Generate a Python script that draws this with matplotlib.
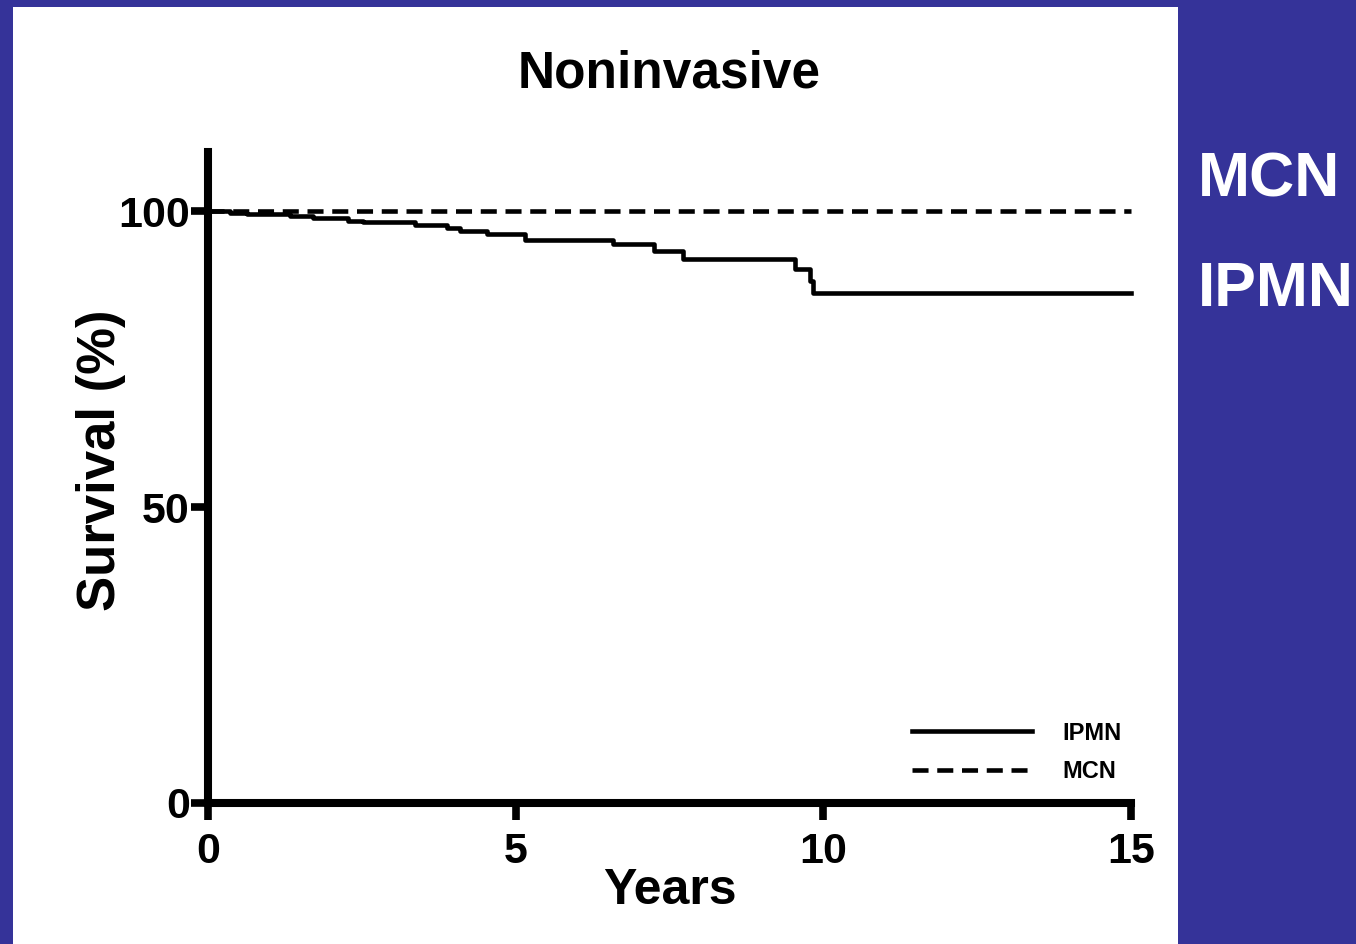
import matplotlib
matplotlib.use("Agg")
import matplotlib.pyplot as plt
from matplotlib.patches import Rectangle

# Kaplan-Meier style survival data
ipmn_years = [0, 0.36, 0.63, 1.33, 1.71, 2.28, 2.52, 3.37, 3.88, 4.10, 4.54,
              5.15, 6.58, 7.24, 7.72, 9.54, 9.79, 9.84, 15]
ipmn_survival = [100, 99.7, 99.45, 99.2, 98.8, 98.4, 98.1, 97.6, 97.1, 96.6, 96.1,
                 95.2, 94.4, 93.3, 91.9, 90.3, 88.2, 86.2, 86.2]
mcn_years = [0, 15]
mcn_survival = [100, 100]

x_ticks = [0, 5, 10, 15]
y_ticks = [0, 50, 100]
side_labels = ["MCN", "IPMN"]

bg_blue = "#353399"
plt.rcParams['font.family'] = ['Liberation Sans', 'DejaVu Sans']
plt.rcParams['font.weight'] = 'bold'

fig = plt.figure(figsize=(13.56, 9.44), dpi=100)
fig.patch.set_facecolor(bg_blue)

# white slide panel
fig.patches.append(Rectangle((13 / 1356, 0), (1178 - 13) / 1356, 1 - 7 / 944,
                             transform=fig.transFigure, facecolor="white",
                             edgecolor="none", zorder=-10))

ax = fig.add_axes([208 / 1356, 141 / 944, 923 / 1356, 651 / 944])
ax.set_facecolor("none")
ax.set_zorder(5)

ax.step(ipmn_years, ipmn_survival, where="post", color="black", lw=3.3,
        label="IPMN", clip_on=False)
ax.plot(mcn_years, mcn_survival, color="black", lw=3.3, linestyle=(0, (3.5, 1.9)),
        label="MCN", clip_on=False)

ax.set_xlim(0, 15)
ax.set_ylim(0, 110)
ax.set_xticks(x_ticks)
ax.set_yticks(y_ticks)
ax.spines["top"].set_visible(False)
ax.spines["right"].set_visible(False)
ax.spines["left"].set_linewidth(5.8)
ax.spines["bottom"].set_linewidth(5.8)
ax.tick_params(axis="both", direction="out", length=12, width=5.5,
               labelsize=31)
ax.tick_params(axis="x", pad=9)
ax.tick_params(axis="y", pad=1)
for lab in ax.get_xticklabels() + ax.get_yticklabels():
    lab.set_fontweight("bold")

ax.set_xlabel("Years", fontsize=36, fontweight="bold")
ax.xaxis.set_label_coords(0.5, -0.1)
ax.set_ylabel("Survival (%)", fontsize=38, fontweight="bold")
ax.yaxis.set_label_coords(-0.089, 0.527)

fig.text(669.5 / 1356, 1 - 74 / 944, "Noninvasive", fontsize=37,
         fontweight="bold", ha="center", va="center")

leg = ax.legend(loc="lower left", bbox_to_anchor=(912 / 1356, 1 - 783 / 944),
                bbox_transform=fig.transFigure, frameon=False, fontsize=17,
                handlelength=5.1, handletextpad=1.25, labelspacing=0.65,
                borderpad=0, borderaxespad=0)
for t in leg.get_texts():
    t.set_fontweight("bold")

fig.text(1198 / 1356, 1 - 180 / 944, side_labels[0], fontsize=45,
         fontweight="bold", color="white", ha="left", va="center")
fig.text(1198 / 1356, 1 - 290 / 944, side_labels[1], fontsize=45,
         fontweight="bold", color="white", ha="left", va="center")

fig.savefig("out.png", dpi=100, facecolor=fig.get_facecolor())
